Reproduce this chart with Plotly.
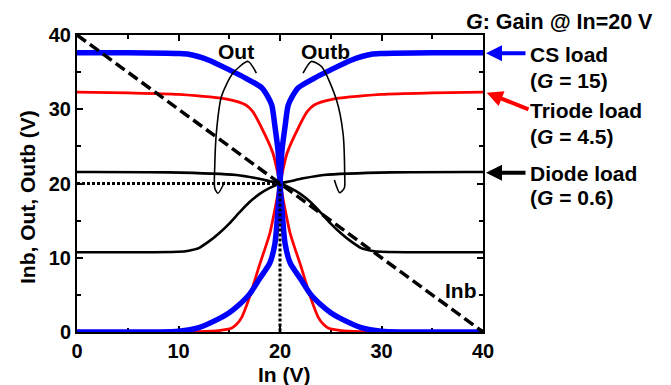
import plotly.graph_objects as go

# ---------------- data ----------------
# CS load
cs_out_x = [0, 5, 10, 11, 13, 15, 16.6, 18.2, 18.8, 19.2, 19.5, 19.8, 20, 20.2, 20.5, 21, 22, 23, 24, 25, 26, 28, 30, 32, 40]
cs_out_y = [37.6, 37.6, 37.5, 37.4, 36.6, 35.3, 34.2, 32.9, 31.7, 30.5, 27.7, 24.5, 20, 16.4, 11.9, 9.3, 7.2, 5.1, 3.7, 2.6, 1.8, 0.6, 0.1, 0, 0]
cs_outb_x = [0, 8, 10, 12, 14, 15, 16, 17, 18, 19, 19.5, 19.8, 20, 20.2, 20.5, 20.8, 21.2, 21.8, 23.4, 25, 27, 29, 30, 35, 40]
cs_outb_y = [0, 0, 0.1, 0.6, 1.8, 2.6, 3.7, 5.1, 7.2, 9.3, 11.9, 16.4, 20, 24.5, 27.7, 30.5, 31.7, 32.9, 34.2, 35.3, 36.6, 37.4, 37.5, 37.6, 37.6]

# Triode load
tri_out_x = [0, 5, 10, 15, 16.6, 17.3, 18.3, 19.3, 20, 21, 22, 23, 23.8, 24.3, 24.8, 26, 28, 30, 40]
tri_out_y = [32.3, 32.2, 32.0, 31.3, 30.6, 29.7, 27.2, 24.1, 20, 13.3, 9.1, 4.7, 1.9, 1.0, 0.5, 0.2, 0.05, 0, 0]
tri_outb_x = [0, 10, 12, 14, 15.2, 15.7, 16.2, 17, 18, 19, 20, 20.7, 21.7, 22.7, 23.4, 25, 30, 35, 40]
tri_outb_y = [0, 0, 0.05, 0.2, 0.5, 1.0, 1.9, 4.7, 9.1, 13.3, 20, 24.1, 27.2, 29.7, 30.6, 31.3, 32.0, 32.2, 32.3]

# Diode load
dio_out_x = [0, 9, 15.7, 17.7, 19, 20, 21, 22, 23, 24, 25, 26, 27, 28, 29, 30, 40]
dio_out_y = [21.55, 21.5, 21.15, 20.7, 20.3, 20, 19.4, 18.6, 17.5, 16.1, 14.6, 13.3, 12.2, 11.3, 10.95, 10.8, 10.75]
dio_outb_x = [0, 10, 11, 12, 13, 14, 15, 16, 17, 18, 19, 20, 21, 22.3, 24.3, 31, 40]
dio_outb_y = [10.75, 10.8, 10.95, 11.3, 12.2, 13.3, 14.6, 16.1, 17.5, 18.6, 19.4, 20, 20.3, 20.7, 21.15, 21.5, 21.55]

# Inb (complementary input)
inb_x = [0, 40]
inb_y = [40, 0]

# operating point guides
op_h_x = [0, 20]
op_h_y = [20, 20]
op_v_x = [20, 20]
op_v_y = [20, 0]

# bracket annotations ("Out" and "Outb")
out_br_x = [17.67, 16.85, 15.37, 14.23, 13.73, 13.57, 13.57, 13.89, 14.55]
out_br_y = [34.87, 36.44, 34.87, 31.71, 26.82, 22.27, 19.39, 18.68, 20.24]
outb_br_x = [22.27, 23.09, 24.11, 25.56, 26.21, 26.37, 26.34, 25.88, 25.36]
outb_br_y = [34.87, 36.44, 35.72, 31.27, 26.77, 21.38, 19.39, 18.76, 20.47]

tick_vals = [0, 10, 20, 30, 40]

BLUE = "#0000FF"
RED = "#FF0000"
BLACK = "#000000"
FONT = "Liberation Sans, Arial, sans-serif"

fig = go.Figure()


def curve(x, y, color, width, dash="solid", shape="spline"):
    fig.add_trace(go.Scatter(
        x=x, y=y, mode="lines", cliponaxis=False, hoverinfo="skip",
        line=dict(color=color, width=width, dash=dash, shape=shape,
                  smoothing=0.7 if shape == "spline" else None),
    ))


curve(dio_out_x, dio_out_y, BLACK, 2.6)
curve(dio_outb_x, dio_outb_y, BLACK, 2.6)
curve(tri_out_x, tri_out_y, RED, 2.8)
curve(tri_outb_x, tri_outb_y, RED, 2.8)
curve(cs_out_x, cs_out_y, BLUE, 5.5)
curve(cs_outb_x, cs_outb_y, BLUE, 5.5)
curve(inb_x, inb_y, BLACK, 3.5, dash="11px,5px", shape="linear")
curve(op_h_x, op_h_y, BLACK, 3, dash="3px,2px", shape="linear")
curve(op_v_x, op_v_y, BLACK, 3, dash="3px,2px", shape="linear")
curve(out_br_x, out_br_y, BLACK, 1.6)
curve(outb_br_x, outb_br_y, BLACK, 1.6)

# ---------------- layout ----------------
# the page body adds an 8 px offset; screen plot area is x 77..483, y 35..332
OFF = 8
SL, ST, SR, SB = 77, 35, 483, 332          # plot area on screen
W, H = 671 - OFF, 385 - OFF
PW, PH = SR - SL, SB - ST
L, T = SL - OFF, ST - OFF
R, B = W - L - PW, H - T - PH


def px(xs):
    return (xs - SL) / PW


def py(ys):
    return (SB - ys) / PH


axis_common = dict(
    range=[0, 40], tickvals=tick_vals, ticktext=[str(v) for v in tick_vals],
    ticks="inside", ticklen=6, tickwidth=2, tickcolor=BLACK,
    showline=True, linewidth=2, linecolor=BLACK, mirror="ticks",
    showgrid=False, zeroline=False, layer="below traces",
    tickfont=dict(family=FONT, size=20, color=BLACK, weight="bold"),
    minor=dict(ticks="inside", dtick=5, ticklen=4, tickwidth=1.5, tickcolor=BLACK, showgrid=False),
    fixedrange=True,
)

fig.update_layout(
    width=W, height=H,
    margin=dict(l=L, r=R, t=T, b=B, autoexpand=False),
    plot_bgcolor="white", paper_bgcolor="white",
    showlegend=False,
    font=dict(family=FONT, size=21, color=BLACK),
    xaxis=dict(**axis_common),
    yaxis=dict(**axis_common),
)

annots = []


def text(s, xs, ys, xanchor="center", size=21, angle=0):
    annots.append(dict(
        text="<b>" + s + "</b>", x=px(xs), y=py(ys), xref="paper", yref="paper",
        xanchor=xanchor, yanchor="middle", showarrow=False, textangle=angle,
        font=dict(family=FONT, size=size, color=BLACK),
    ))


def arrow(hx, hy, tx, ty, color):
    annots.append(dict(
        text="", x=px(hx), y=py(hy), xref="paper", yref="paper",
        ax=tx - hx, ay=ty - hy, axref="pixel", ayref="pixel",
        showarrow=True, arrowhead=2, arrowsize=0.8, arrowwidth=4,
        arrowcolor=color, standoff=0, startstandoff=0,
    ))


text("<i>G</i>: Gain @ In=20 V", 464, 22, xanchor="left", size=21.5)
text("CS load", 528, 54, xanchor="left")
text("(<i>G</i> = 15)", 528, 80, xanchor="left")
text("Triode load", 528, 111, xanchor="left")
text("(<i>G</i> = 4.5)", 528, 136, xanchor="left")
text("Diode load", 528, 173, xanchor="left")
text("(<i>G</i> = 0.6)", 528, 197, xanchor="left")
text("Out", 236, 52)
text("Outb", 325, 52)
text("Inb", 461, 290)
text("In (V)", 284, 374)
text("Inb, Out, Outb (V)", 27, 197, angle=-90)

arrow(486, 53.3, 527, 53.3, BLUE)
arrow(486.7, 92.7, 530, 110, RED)
arrow(486, 172.7, 527, 172.7, BLACK)

fig.update_layout(annotations=annots)

fig.write_html("out.html")
